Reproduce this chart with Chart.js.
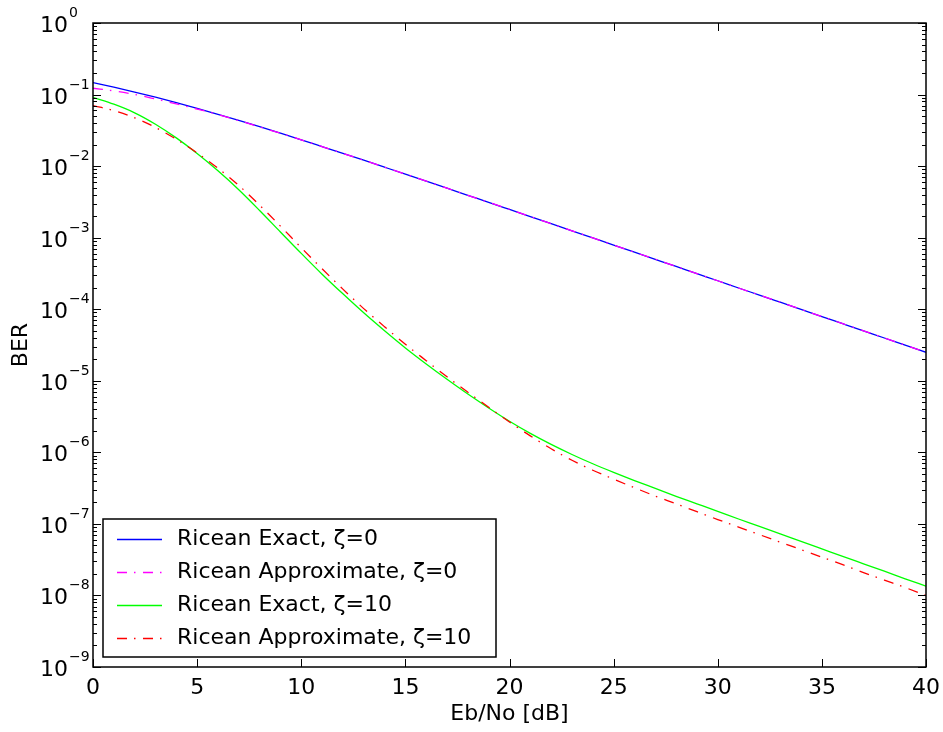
<!DOCTYPE html>
<html>
<head>
<meta charset="utf-8">
<script src="https://cdn.jsdelivr.net/npm/chart.js@4.4.0/dist/chart.umd.min.js"></script>
<style>
  html, body { margin: 0; padding: 0; background: #fff; }
  #ber { display: block; }
</style>
</head>
<body>
<canvas id="ber" width="943" height="732"></canvas>
<script>
// Data (Eb/No in dB against BER)

var ebno = [0, 1, 2, 3, 4, 5, 6, 7, 8, 9, 10, 11, 12, 13, 14, 15, 16, 17, 18, 19, 20,
    21, 22, 23, 24, 25, 26, 27, 28, 29, 30, 31, 32, 33, 34, 35, 36, 37, 38, 39, 40];

var exactZeta0 = [0.1464, 0.1267, 0.1085, 0.0919, 0.0771, 0.0642, 0.0530, 0.0435, 0.0355, 0.0288,
    0.0233, 0.01874, 0.01506, 0.01208, 0.00966, 0.00772, 0.00616, 0.00491, 0.00391, 0.00312,
    0.00248, 0.00197, 0.001567, 0.001247, 0.000991, 0.000788, 0.000626, 0.000498, 0.000396, 0.000314,
    0.00025, 0.000198, 0.0001577, 0.0001253, 0.0000995, 0.000079, 0.0000628, 0.0000499, 0.0000396, 0.0000315,
    0.000025];

var approxZeta0 = [0.1225, 0.1127, 0.1005, 0.0867, 0.0741, 0.0627, 0.0526, 0.0433, 0.0353, 0.0288,
    0.0233, 0.01874, 0.01506, 0.01208, 0.00966, 0.00772, 0.00616, 0.00491, 0.00391, 0.00312,
    0.00248, 0.00197, 0.001567, 0.001247, 0.000991, 0.000788, 0.000626, 0.000498, 0.000396, 0.000314,
    0.00025, 0.000198, 0.0001577, 0.0001253, 0.0000995, 0.000079, 0.0000628, 0.0000499, 0.0000396, 0.0000315,
    0.000025];

var exactZeta10 = [9.12e-2, 7.33e-2, 5.56e-2, 3.85e-2, 2.48e-2, 1.50e-2, 8.61e-3, 4.68e-3, 2.40e-3, 1.20e-3,
    6.03e-4, 3.09e-4, 1.64e-4, 8.9e-5, 5.0e-5, 2.88e-5, 1.72e-5, 1.05e-5, 6.53e-6, 4.17e-6,
    2.72e-6, 1.84e-6, 1.29e-6, 9.33e-7, 6.92e-7, 5.25e-7, 4.03e-7, 3.13e-7, 2.43e-7, 1.91e-7,
    1.50e-7, 1.17e-7, 9.23e-8, 7.24e-8, 5.70e-8, 4.48e-8, 3.52e-8, 2.77e-8, 2.18e-8, 1.71e-8,
    1.35e-8];

var approxZeta10 = [7.0e-2, 5.96e-2, 4.73e-2, 3.47e-2, 2.37e-2, 1.53e-2, 9.33e-3, 5.37e-3, 2.85e-3, 1.45e-3,
    7.24e-4, 3.67e-4, 1.91e-4, 1.02e-4, 5.69e-5, 3.24e-5, 1.91e-5, 1.135e-5, 6.92e-6, 4.27e-6,
    2.66e-6, 1.70e-6, 1.12e-6, 7.76e-7, 5.62e-7, 4.22e-7, 3.20e-7, 2.45e-7, 1.91e-7, 1.48e-7,
    1.15e-7, 9.02e-8, 7.08e-8, 5.56e-8, 4.37e-8, 3.43e-8, 2.69e-8, 2.09e-8, 1.64e-8, 1.29e-8,
    1.0e-8];

var seriesLabels = ['Ricean Exact, ζ=0', 'Ricean Approximate, ζ=0', 'Ricean Exact, ζ=10', 'Ricean Approximate, ζ=10'];
var xTicks = [0, 5, 10, 15, 20, 25, 30, 35, 40];
var yExponents = [0, -1, -2, -3, -4, -5, -6, -7, -8, -9];

var FONT = 'DejaVu Sans';
var dashDot = [10, 7, 1.5, 7.5];

Chart.defaults.font.family = FONT;
Chart.defaults.font.size = 22;
Chart.defaults.color = '#000';


// Helpers

function points(values) {
    return ebno.map(function (x, i) { return { x: x, y: values[i] }; });
}

function line(label, values, color, dash, order) {
    return {
        label: label,
        data: points(values),
        borderColor: color,
        borderWidth: 1.3,
        borderDash: dash,
        pointRadius: 0,
        cubicInterpolationMode: 'monotone',
        fill: false,
        order: order
    };
}


// Frame, inward ticks, y labels and legend, MATLAB style

var matlabAxes = {
    id: 'matlabAxes',
    afterDatasetsDraw: function (chart) {
        var ctx = chart.ctx;
        var a = chart.chartArea;
        var sx = chart.scales.x;
        var sy = chart.scales.y;

        ctx.save();
        ctx.strokeStyle = '#000';
        ctx.lineWidth = 1;
        ctx.beginPath();
        xTicks.forEach(function (v) {
            var px = Math.round(sx.getPixelForValue(v)) + 0.5;
            ctx.moveTo(px, a.bottom); ctx.lineTo(px, a.bottom - 8);
            ctx.moveTo(px, a.top); ctx.lineTo(px, a.top + 8);
        });
        yExponents.forEach(function (e) {
            for (var m = 1; m < 10; m++) {
                if (e === 0 && m > 1) break;
                var py = Math.round(sy.getPixelForValue(m * Math.pow(10, e))) + 0.5;
                var len = m === 1 ? 8 : 4;
                ctx.moveTo(a.left, py); ctx.lineTo(a.left + len, py);
                ctx.moveTo(a.right, py); ctx.lineTo(a.right - len, py);
            }
        });
        ctx.stroke();

        ctx.lineWidth = 1.5;
        ctx.strokeRect(a.left, a.top, a.right - a.left, a.bottom - a.top);

        // y tick labels: 10 with a raised exponent
        ctx.fillStyle = '#000';
        ctx.textBaseline = 'alphabetic';
        yExponents.forEach(function (e) {
            var py = sy.getPixelForValue(Math.pow(10, e));
            ctx.font = '22px "' + FONT + '"';
            ctx.textAlign = 'right';
            ctx.fillText('10', a.left - 25, py + 9);
            ctx.font = '14px "' + FONT + '"';
            ctx.textAlign = 'left';
            ctx.fillText(e === 0 ? '0' : '\u2212' + (-e), a.left - 24, py - 6);
        });

        // legend box
        var box = { left: 103, top: 519, right: 496, bottom: 657 };
        ctx.fillStyle = '#fff';
        ctx.fillRect(box.left, box.top, box.right - box.left, box.bottom - box.top);
        ctx.lineWidth = 1.5;
        ctx.strokeRect(box.left, box.top, box.right - box.left, box.bottom - box.top);

        ctx.font = '22px "' + FONT + '"';
        ctx.textAlign = 'left';
        ctx.textBaseline = 'middle';
        chart.data.datasets.forEach(function (ds, i) {
            var cy = 539.5 + i * 33;
            ctx.strokeStyle = ds.borderColor;
            ctx.lineWidth = ds.borderWidth;
            ctx.setLineDash(ds.borderDash || []);
            ctx.beginPath();
            ctx.moveTo(117, cy);
            ctx.lineTo(162, cy);
            ctx.stroke();
            ctx.setLineDash([]);
            ctx.fillStyle = '#000';
            ctx.fillText(ds.label, 177, cy);
        });
        ctx.restore();
    }
};


// Chart

var berChart = new Chart(document.getElementById('ber'), {
    type: 'line',
    data: {
        datasets: [
            line(seriesLabels[0], exactZeta0, '#0000ff', [], 4),
            line(seriesLabels[1], approxZeta0, '#ff00ff', dashDot, 3),
            line(seriesLabels[2], exactZeta10, '#00ff00', [], 2),
            line(seriesLabels[3], approxZeta10, '#ff0000', dashDot, 1)
        ]
    },
    options: {
        responsive: false,
        devicePixelRatio: 1,
        animation: false,
        layout: { padding: { top: 23, right: 17, left: 0, bottom: 0 } },
        plugins: {
            legend: { display: false },
            tooltip: { enabled: false }
        },
        scales: {
            x: {
                type: 'linear',
                min: 0,
                max: 40,
                grid: { display: false, drawTicks: false },
                border: { display: false },
                ticks: { stepSize: 5, padding: 8, maxRotation: 0 },
                title: { display: true, text: 'Eb/No [dB]', padding: { top: 0, bottom: 5 } },
                afterFit: function (scale) {
                    scale.height = 65;
                    scale.paddingLeft = 0;
                    scale.paddingRight = 0;
                }
            },
            y: {
                type: 'logarithmic',
                min: 1e-9,
                max: 1,
                grid: { display: false, drawTicks: false },
                border: { display: false },
                ticks: { display: false },
                title: { display: true, text: 'BER', padding: { top: 8, bottom: 0 } },
                afterFit: function (scale) {
                    scale.width = 93;
                    scale.paddingTop = 0;
                    scale.paddingBottom = 0;
                }
            }
        }
    },
    plugins: [matlabAxes]
});
</script>
</body>
</html>
